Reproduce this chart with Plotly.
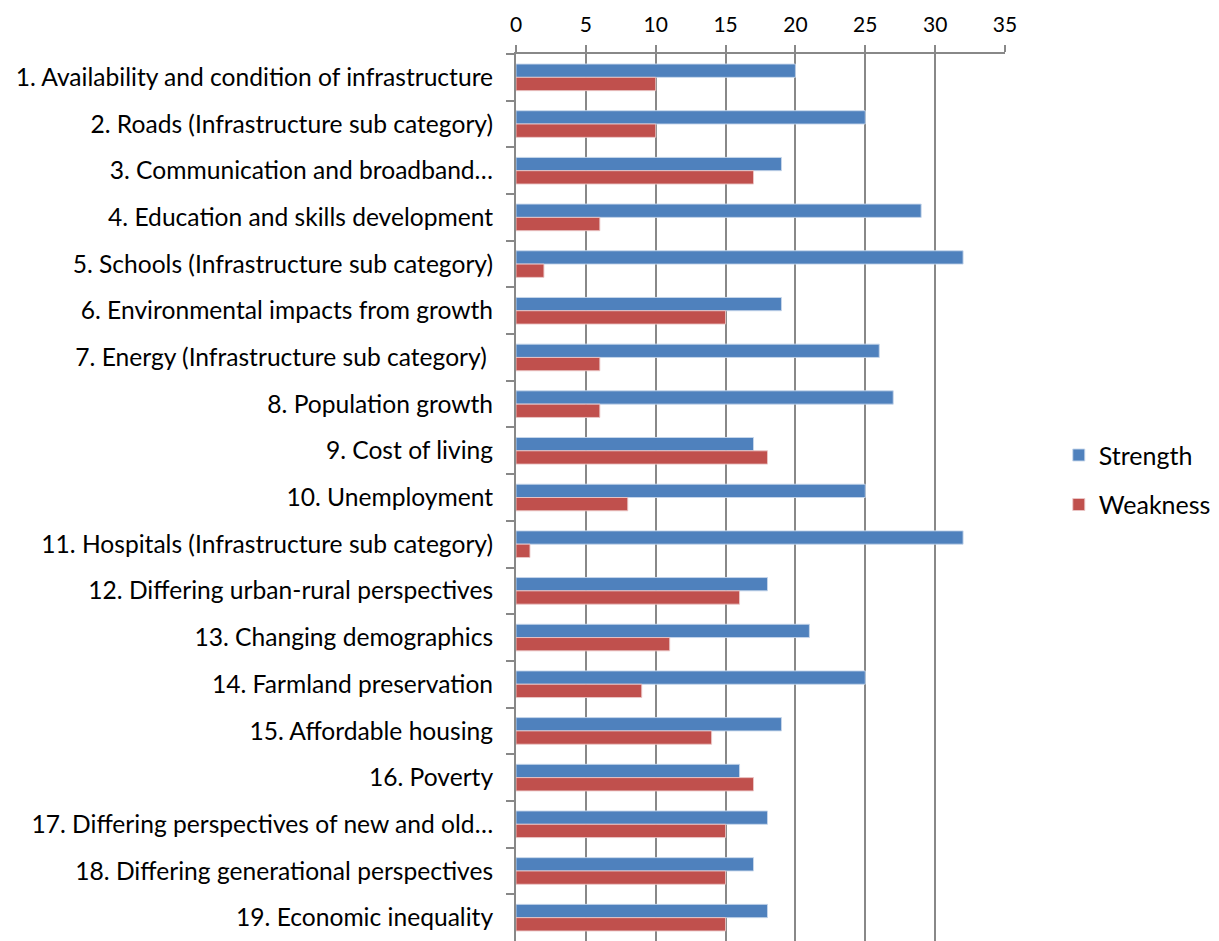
import plotly.graph_objects as go

categories = [
    "1. Availability and condition of infrastructure",
    "2. Roads (Infrastructure sub category)",
    "3. Communication and broadband…",
    "4. Education and skills development",
    "5. Schools (Infrastructure sub category)",
    "6. Environmental impacts from growth",
    "7. Energy (Infrastructure sub category) ",
    "8. Population growth",
    "9. Cost of living",
    "10. Unemployment",
    "11. Hospitals (Infrastructure sub category)",
    "12. Differing urban-rural perspectives",
    "13. Changing demographics",
    "14. Farmland preservation",
    "15. Affordable housing",
    "16. Poverty",
    "17. Differing perspectives of new and old…",
    "18. Differing generational perspectives",
    "19. Economic inequality",
]
strength = [20, 25, 19, 29, 32, 19, 26, 27, 17, 25, 32, 18, 21, 25, 19, 16, 18, 17, 18]
weakness = [10, 10, 17, 6, 2, 15, 6, 6, 18, 8, 1, 16, 11, 9, 14, 17, 15, 15, 15]
x_ticks = [0, 5, 10, 15, 20, 25, 30, 35]

FONT = "Lato"

fig = go.Figure()
fig.add_trace(go.Bar(
    y=categories, x=strength, name="Strength", orientation="h", legendgroup="s",
    marker=dict(color="#4F81BD", line=dict(color="rgba(200,215,235,0.9)", width=1)),
))
fig.add_trace(go.Bar(
    y=categories, x=weakness, name="Weakness", orientation="h", legendgroup="w",
    marker=dict(color="#C0504D", line=dict(color="rgba(235,200,200,0.9)", width=1)),
))

fig.update_layout(
    width=1211, height=933,
    margin=dict(l=508, r=214, t=46, b=0, autoexpand=False),
    paper_bgcolor="white", plot_bgcolor="white",
    barmode="group", bargap=0.43, bargroupgap=0,
    font=dict(family=FONT, size=25, color="black"),
    showlegend=True,
    legend=dict(x=1.11, y=0.52, xanchor="left", yanchor="middle",
                font=dict(family=FONT, size=25), tracegroupgap=14,
                traceorder="grouped"),
)
fig.update_xaxes(
    side="top", range=[0, 35], tickvals=x_ticks, ticktext=[str(v) for v in x_ticks],
    showgrid=True, gridcolor="#888888", gridwidth=2,
    showline=True, linecolor="#888888", linewidth=2,
    ticks="outside", ticklen=7, tickcolor="#888888", tickwidth=2,
    ticklabelstandoff=5, automargin=False,
    tickfont=dict(family=FONT, size=21), zeroline=False, fixedrange=True,
)
fig.update_yaxes(
    autorange="reversed", type="category",
    showline=True, linecolor="#888888", linewidth=2,
    ticks="outside", ticklen=8, tickcolor="#888888", tickwidth=2,
    tickson="boundaries", ticklabelstandoff=16, automargin=False,
    tickfont=dict(family=FONT, size=24.6), showgrid=False, fixedrange=True,
)

fig.write_html("out.html")
